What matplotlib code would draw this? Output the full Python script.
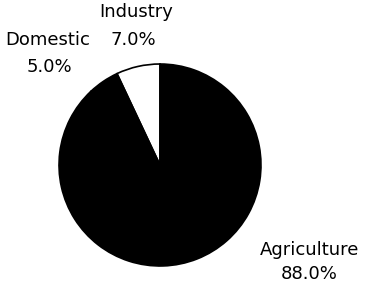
import matplotlib
matplotlib.use("Agg")
import matplotlib.pyplot as plt

categories = ["Industry", "Domestic", "Agriculture"]
values = [7.0, 5.0, 88.0]
colors = ["white", "black", "black"]

W, H = 365, 289
fig = plt.figure(figsize=(W / 100, H / 100), dpi=100)
cx, cy, r = 160, 165, 102
ax = fig.add_axes([(cx - r) / W, (H - cy - r) / H, 2 * r / W, 2 * r / H])
ax.pie(values, colors=colors, startangle=90, counterclock=True,
       wedgeprops=dict(linewidth=1.2, edgecolor="black"))
ax.set_xlim(-1.01, 1.01)
ax.set_ylim(-1.01, 1.01)
ax.set_aspect("equal")
ax.axis("off")

font = dict(family=["DejaVu Sans"], fontsize=13, color="black",
            ha="center", va="baseline")
# (x centre, baseline y) in pixels from top-left
label_pos = {"Industry": [(136, 17), (133, 45)],
             "Domestic": [(48, 45), (49, 72)],
             "Agriculture": [(310, 255), (309, 279)]}
for cat, val in zip(categories, values):
    (x1, y1), (x2, y2) = label_pos[cat]
    fig.text(x1 / W, 1 - y1 / H, cat, **font)
    fig.text(x2 / W, 1 - y2 / H, f"{val:.1f}%", **font)

fig.savefig("out.png", dpi=100)
